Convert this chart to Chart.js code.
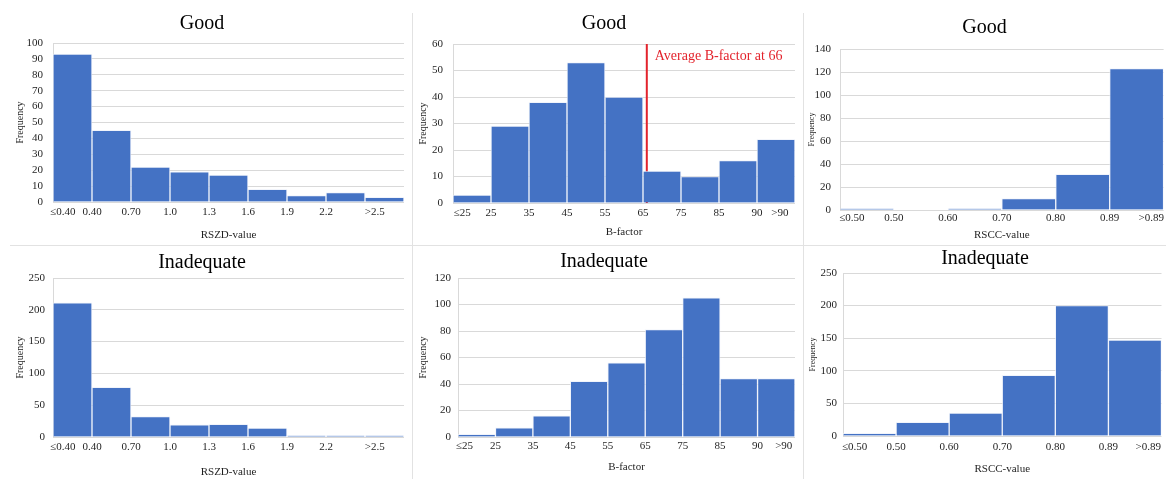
<!DOCTYPE html>
<html>
<head>
<meta charset="utf-8">
<script src="https://cdn.jsdelivr.net/npm/chart.js@4.4.1/dist/chart.umd.min.js"></script>
<style>
  body { margin: 0; background: #fff; }
  #wrap { position: relative; width: 1166px; height: 479px; overflow: hidden; }
  .panel { position: absolute; }
  .vline { position: absolute; top: 13px; width: 1px; height: 466px; background: #e2e2e2; }
  .hline { position: absolute; left: 10px; width: 1156px; top: 245px; height: 1px; background: #e2e2e2; }
</style>
</head>
<body>
<div id="wrap">
  <div class="vline" style="left:412px"></div>
  <div class="vline" style="left:803px"></div>
  <div class="hline"></div>
  <div class="panel" style="left:0;top:0;width:410px;height:245px"><canvas id="c1"></canvas></div>
  <div class="panel" style="left:413px;top:0;width:388px;height:245px"><canvas id="c2"></canvas></div>
  <div class="panel" style="left:805px;top:0;width:361px;height:245px"><canvas id="c3"></canvas></div>
  <div class="panel" style="left:0;top:247px;width:410px;height:232px"><canvas id="c4"></canvas></div>
  <div class="panel" style="left:413px;top:247px;width:388px;height:232px"><canvas id="c5"></canvas></div>
  <div class="panel" style="left:805px;top:247px;width:361px;height:232px"><canvas id="c6"></canvas></div>
</div>
<script>
// bin labels (first = lower open bin, last = upper open bin)
var rszdLabels = ['≤0.40', '0.40', '0.70', '1.0', '1.3', '1.6', '1.9', '2.2', '>2.5'];
var bfactorLabels = ['≤25', '25', '35', '45', '55', '65', '75', '85', '90', '>90'];
var rsccLabels = ['≤0.50', '0.50', '0.60', '0.70', '0.80', '0.89', '>0.89'];

// frequencies
var goodRszd = [93, 45, 22, 19, 17, 8, 4, 6, 3];
var goodBfactor = [3, 29, 38, 53, 40, 12, 10, 16, 24];
var goodRscc = [1, 0, 1, 10, 31, 123];
var inadRszd = [211, 78, 32, 19, 20, 14, 2, 2, 2];
var inadBfactor = [2, 7, 16, 42, 56, 81, 105, 44, 44];
var inadRscc = [4, 21, 35, 93, 200, 147];

// B-factor bin edges, and the average marked on the "Good" plot
var bfactorEdges = [25, 35, 45, 55, 65, 75, 85, 90];
var avgBfactor = 66;

var serif = "'Liberation Serif', 'Times New Roman', serif";
var blue = '#4472c4';
var red = '#e3232c';
var ink = '#1f1f1f';

// where a B-factor value falls on the bin axis
function binPos(v, edges) {
  for (var i = 0; i < edges.length - 1; i++) {
    if (v >= edges[i] && v <= edges[i + 1]) return i + 1 + (v - edges[i]) / (edges[i + 1] - edges[i]);
  }
  return v < edges[0] ? 0.5 : edges.length + 0.5;
}

var avgLabel = {
  id: 'avgLabel',
  afterDatasetsDraw: function(chart, args, o) {
    if (!o.text) return;
    var ctx = chart.ctx;
    var x = chart.scales.x.getPixelForValue(o.at);
    ctx.save();
    ctx.fillStyle = red;
    ctx.font = '14px ' + serif;
    ctx.textBaseline = 'middle';
    ctx.fillText(o.text, x + 8, chart.chartArea.top + 12);
    ctx.restore();
  }
};

function histogram(id, p) {
  var n = p.values.length;
  var pts = p.values.map(function(v, i) { return { x: i + 0.5, y: v }; });
  var tickPos = p.labels.map(function(l, i) {
    if (i === 0) return p.firstPos;
    if (i === p.labels.length - 1) return p.lastPos;
    return i;
  });
  var datasets = [{
    type: 'bar',
    data: pts,
    backgroundColor: blue,
    borderColor: 'rgba(235,240,250,0.7)',
    borderWidth: 1,
    borderSkipped: 'bottom',
    barThickness: 'flex',
    barPercentage: 1,
    categoryPercentage: 1
  }];
  if (p.avg !== undefined) {
    datasets.push({
      type: 'line',
      data: [{ x: p.avg, y: 0 }, { x: p.avg, y: p.yMax }],
      borderColor: red,
      borderWidth: 2,
      pointRadius: 0
    });
  }
  new Chart(document.getElementById(id), {
    type: 'bar',
    data: { datasets: datasets },
    plugins: [avgLabel],
    options: {
      responsive: true,
      maintainAspectRatio: false,
      animation: false,
      layout: { padding: { left: 0, right: p.padRight, top: 0, bottom: 0 } },
      plugins: {
        legend: { display: false },
        tooltip: { enabled: false },
        title: {
          display: true, text: p.title, color: '#000',
          font: { family: serif, size: 20, weight: 'normal' },
          padding: { top: p.titleTop, bottom: p.titleBottom }
        },
        avgLabel: { text: p.avgText, at: p.avg }
      },
      scales: {
        x: {
          type: 'linear', min: 0, max: n, offset: false,
          grid: { display: false, drawTicks: false },
          border: { display: false },
          afterBuildTicks: function(s) { s.ticks = tickPos.map(function(v) { return { value: v }; }); },
          afterFit: function(s) { s.height = p.xHeight; },
          ticks: {
            autoSkip: false, maxRotation: 0, padding: p.xTickPad, color: ink,
            font: { family: serif, size: 11 },
            callback: function(v, i) { return p.labels[i]; }
          },
          title: {
            display: true, text: p.xTitle, color: ink,
            font: { family: serif, size: 11 },
            padding: { top: 0, bottom: p.xTitleBottom }
          }
        },
        y: {
          min: 0, max: p.yMax,
          grid: { color: '#d9d9d9', drawTicks: false },
          border: { display: true, color: '#d9d9d9' },
          afterFit: function(s) { s.width = p.yWidth; },
          ticks: {
            stepSize: p.yStep, autoSkip: false, padding: p.yTickPad, color: ink,
            font: { family: serif, size: 11 }
          },
          title: {
            display: true, text: 'Frequency', color: ink,
            font: { family: serif, size: p.freqSize },
            padding: { top: p.freqLeft, bottom: 0 }
          }
        }
      }
    }
  });
}

histogram('c1', {
  title: 'Good', values: goodRszd, labels: rszdLabels, xTitle: 'RSZD-value',
  firstPos: 0.25, lastPos: 8.25, yMax: 100, yStep: 10,
  yWidth: 53, padRight: 6, titleTop: 12, titleBottom: 7, xHeight: 43,
  xTickPad: 4, xTitleBottom: 3, yTickPad: 10, freqSize: 10, freqLeft: 14
});
histogram('c2', {
  title: 'Good', values: goodBfactor, labels: bfactorLabels, xTitle: 'B-factor',
  firstPos: 0.24, lastPos: 8.6, yMax: 60, yStep: 10,
  avg: binPos(avgBfactor, bfactorEdges), avgText: 'Average B-factor at ' + avgBfactor,
  yWidth: 40, padRight: 6, titleTop: 12, titleBottom: 8, xHeight: 42,
  xTickPad: 4, xTitleBottom: 6, yTickPad: 10, freqSize: 10, freqLeft: 4
});
histogram('c3', {
  title: 'Good', values: goodRscc, labels: rsccLabels, xTitle: 'RSCC-value',
  firstPos: 0.22, lastPos: 5.77, yMax: 140, yStep: 20,
  yWidth: 35, padRight: 2, titleTop: 16, titleBottom: 9, xHeight: 35,
  xTickPad: 2, xTitleBottom: 3, yTickPad: 9, freqSize: 8, freqLeft: 2
});
histogram('c4', {
  title: 'Inadequate', values: inadRszd, labels: rszdLabels, xTitle: 'RSZD-value',
  firstPos: 0.25, lastPos: 8.25, yMax: 250, yStep: 50,
  yWidth: 53, padRight: 6, titleTop: 4, titleBottom: 3, xHeight: 42,
  xTickPad: 4, xTitleBottom: 0, yTickPad: 8, freqSize: 10, freqLeft: 14
});
histogram('c5', {
  title: 'Inadequate', values: inadBfactor, labels: bfactorLabels, xTitle: 'B-factor',
  firstPos: 0.17, lastPos: 8.7, yMax: 120, yStep: 20,
  yWidth: 45, padRight: 6, titleTop: 3, titleBottom: 4, xHeight: 42,
  xTickPad: 3, xTitleBottom: 5, yTickPad: 7, freqSize: 10, freqLeft: 4
});
histogram('c6', {
  title: 'Inadequate', values: inadRscc, labels: rsccLabels, xTitle: 'RSCC-value',
  firstPos: 0.22, lastPos: 5.75, yMax: 250, yStep: 50,
  yWidth: 38, padRight: 1, titleTop: 0, titleBottom: 2, xHeight: 43,
  xTickPad: 5, xTitleBottom: 3, yTickPad: 6, freqSize: 8, freqLeft: 3
});
</script>
</body>
</html>
